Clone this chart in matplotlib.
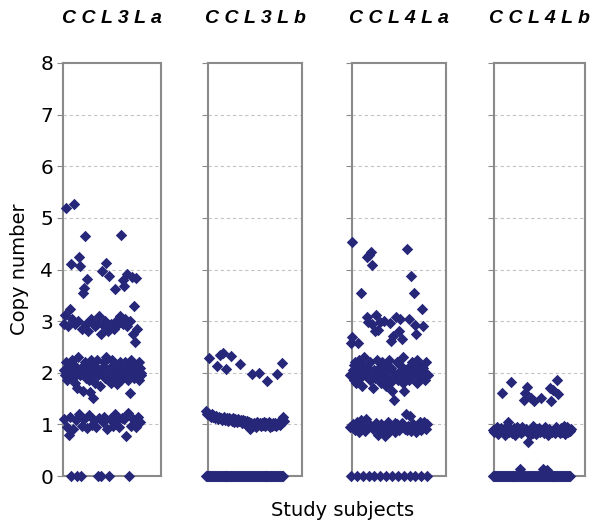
import matplotlib
matplotlib.use("Agg")
import matplotlib.pyplot as plt
import numpy as np

# copy numbers per study subject (subject order left to right)
genes = ["CCL3La", "CCL3Lb", "CCL4La", "CCL4Lb"]

ccl3la = [
    2.05, 1.10, 2.95, 1.95, 3.11, 5.20, 2.20, 0.95, 1.85, 2.90, 2.10, 0.80, 2.00, 1.15, 3.24, 0.00, 4.10, 2.25, 3.05, 1.90,
    0.92, 2.15, 5.26, 1.80, 2.95, 1.08, 2.05, 0.00, 1.70, 3.00, 2.30, 1.20, 4.24, 1.95, 4.06, 0.00, 2.10, 2.85, 0.96, 1.65,
    3.55, 2.00, 3.64, 1.10, 4.64, 2.20, 2.95, 1.90, 3.81, 0.93, 2.10, 2.80, 1.85, 1.18, 2.05, 1.62, 3.05, 2.25, 0.98, 1.95,
    2.00, 1.52, 2.15, 1.08, 2.90, 1.80, 2.10, 0.94, 2.95, 2.25, 0.00, 1.95, 1.12, 3.10, 2.05, 1.75, 2.75, 0.00, 3.98, 2.10,
    1.05, 2.00, 2.90, 2.20, 1.15, 1.90, 3.00, 2.30, 4.12, 0.92, 2.05, 2.80, 1.85, 0.00, 3.87, 2.10, 1.10, 2.95, 1.80, 2.00,
    2.25, 0.96, 2.05, 2.85, 1.90, 1.20, 3.62, 2.10, 3.00, 1.78, 1.08, 2.15, 2.95, 1.95, 0.94, 2.20, 3.10, 4.67, 1.85, 1.12,
    2.05, 2.95, 3.80, 1.95, 3.69, 1.10, 2.20, 3.05, 0.78, 2.00, 3.92, 2.90, 1.85, 1.22, 0.00, 2.10, 3.00, 1.60, 2.25, 0.97,
    3.85, 2.00, 2.75, 1.10, 3.30, 1.90, 2.60, 2.15, 3.83, 0.95, 2.05, 2.85, 1.95, 1.15, 2.20, 1.85, 1.05, 2.10, 1.95, 2.00,
]

ccl3lb = [
    0, 1.25, 0, 1.20, 0, 1.22, 0, 2.28, 0, 1.18, 0, 1.15, 0, 1.20, 0, 1.14, 0, 1.17, 0, 1.12,
    0, 1.16, 0, 2.14, 0, 1.10, 0, 1.15, 0, 2.35, 0, 1.12, 0, 1.08, 0, 2.38, 0, 1.14, 0, 1.09,
    0, 2.08, 0, 1.12, 0, 1.06, 0, 1.13, 0, 1.10, 0, 2.33, 0, 1.07, 0, 1.12, 0, 1.05, 0, 1.10,
    0, 1.08, 0, 1.04, 0, 1.11, 0, 1.06, 0, 2.16, 0, 1.09, 0, 1.03, 0, 1.08, 0, 1.02, 0, 1.07,
    0, 1.05, 0, 1.00, 0, 1.07, 0, 0.97, 0, 1.04, 0, 0.92, 0, 1.02, 0, 1.97, 0, 0.96, 0, 1.03,
    0, 1.00, 0, 0.95, 0, 1.04, 0, 0.98, 0, 1.99, 0, 1.02, 0, 0.97, 0, 1.03, 0, 0.99, 0, 1.05,
    0, 0.96, 0, 1.02, 0, 1.84, 0, 0.98, 0, 1.04, 0, 0.95, 0, 1.01, 0, 0.97, 0, 1.03, 0, 0.99,
    0, 1.02, 0, 0.96, 0, 1.97, 0, 1.00, 0, 1.05, 0, 0.98, 0, 1.08, 0, 2.18, 0, 1.15, 0, 1.06,
]

ccl4la = [
    1.95, 0.95, 0.00, 2.57, 2.70, 4.53, 2.05, 1.00, 2.15, 1.85, 2.20, 0.90, 1.80, 2.10, 0.00, 1.05, 2.58, 2.00, 0.85, 2.25,
    0.95, 1.90, 3.55, 1.08, 2.15, 1.75, 0.00, 0.95, 2.05, 2.30, 0.88, 1.95, 2.00, 1.10, 3.08, 4.24, 2.10, 2.98, 0.00, 4.29,
    1.85, 0.98, 2.20, 4.34, 1.90, 2.95, 4.08, 1.70, 0.92, 2.05, 0.00, 2.80, 1.90, 3.12, 1.02, 2.25, 0.98, 2.82, 0.80, 1.95,
    2.10, 2.98, 0.00, 1.00, 1.80, 2.20, 0.90, 2.00, 2.10, 1.85, 3.00, 0.78, 2.15, 1.75, 0.00, 0.95, 2.05, 1.90, 1.05, 2.25,
    1.85, 2.97, 1.80, 0.88, 2.10, 2.62, 0.00, 1.65, 0.95, 2.72, 2.00, 1.47, 1.02, 0.85, 3.08, 1.90, 2.20, 1.00, 0.00, 1.85,
    2.80, 0.90, 2.15, 3.05, 2.05, 1.95, 2.65, 1.02, 2.30, 1.80, 0.00, 1.64, 0.92, 2.05, 1.20, 1.90, 0.90, 4.39, 2.10, 0.96,
    1.85, 3.05, 0.00, 2.00, 1.17, 3.88, 0.88, 2.20, 2.15, 1.95, 1.00, 3.55, 2.10, 2.92, 0.00, 2.75, 0.85, 1.80, 2.25, 0.95,
    1.95, 2.05, 1.90, 1.05, 2.15, 0.90, 0.00, 3.24, 1.95, 2.90, 2.10, 0.98, 1.05, 1.85, 2.00, 0.92, 2.20, 1.00, 0.00, 1.95,
]

ccl4lb = [
    0, 0.90, 0, 0.85, 0, 0.92, 0, 0.88, 0, 0.95, 0, 0.82, 0, 0.90, 0, 0.87, 0, 0.93, 0, 1.61,
    0, 0.85, 0, 0.90, 0, 0.80, 0, 0.88, 0, 0.96, 0, 1.05, 0, 0.86, 0, 0.91, 0, 1.83, 0, 0.84,
    0, 0.89, 0, 0.93, 0, 0.80, 0, 0.88, 0, 0.94, 0, 0.85, 0, 0.90, 0, 0.13, 0, 0.83, 0, 0.95,
    0, 0.88, 0, 1.48, 0, 1.60, 0, 0.92, 0, 1.73, 0, 0.65, 0, 0.86, 0, 0.80, 0, 1.52, 0, 0.90,
    0, 0.84, 0, 0.96, 0, 1.46, 0, 0.88, 0, 0.82, 0, 0.91, 0, 0.86, 0, 0.93, 0, 0.85, 0, 1.52,
    0, 0.90, 0, 0.13, 0, 0.84, 0, 0.95, 0, 0.87, 0, 0.11, 0, 0.80, 0, 0.92, 0, 1.70, 0, 1.46,
    0, 0.86, 0, 1.67, 0, 0.90, 0, 0.83, 0, 0.95, 0, 1.86, 0, 1.59, 0, 0.88, 0, 0.84, 0, 0.93,
    0, 0.86, 0, 0.90, 0, 0.97, 0, 0.82, 0, 0.89, 0, 0.94, 0, 0.85, 0, 0.90, 0, 0.87, 0, 0.92,
]

yticks = [0, 1, 2, 3, 4, 5, 6, 7, 8]

# panel boxes in pixels (left, right) and x offset of first subject
panels_px = [(63, 161, 0.5), (208, 302, -2), (352, 446, -2), (494, 585, -1)]
W, H = 592, 525
top_px, bot_px = 63, 476
subj_per_px = 2.05

navy = '#27277a'
edge = '#8a8a8a'

fig = plt.figure(figsize=(W / 100, H / 100), dpi=100)

for k, (data, name) in enumerate(zip([ccl3la, ccl3lb, ccl4la, ccl4lb], genes)):
    l, r, off = panels_px[k]
    ax = fig.add_axes([l / W, 1 - bot_px / H, (r - l) / W, (bot_px - top_px) / H])
    x = np.arange(len(data))
    x0 = -off * subj_per_px
    ax.set_xlim(x0, x0 + (r - l) * subj_per_px)
    ax.set_ylim(0, 8)
    for g in yticks[1:-1]:
        ax.axhline(g, color='#c4c4c4', lw=0.8, ls=(0, (3, 2.5)), zorder=1)
    ax.scatter(x, data, marker='D', s=34, color=navy, linewidths=0, zorder=3, clip_on=False)
    for s in ax.spines.values():
        s.set_color(edge)
        s.set_linewidth(1.5)
    ax.set_xticks([])
    ax.set_yticks(yticks)
    ax.tick_params(axis='y', direction='out', length=4, width=0.8, color=edge, labelsize=14.5, pad=3)
    if k == 0:
        ax.set_ylabel('Copy number', fontsize=14, labelpad=8)
    else:
        ax.set_yticklabels([])
    ax.set_title(' '.join(name), fontsize=14, fontweight='bold', fontstyle='italic',
                 family='Liberation Sans', pad=28.5)

fig.text(0.578, 1 - 511 / H, 'Study subjects', ha='center', va='center', fontsize=14)

fig.savefig('out.png', dpi=100)
